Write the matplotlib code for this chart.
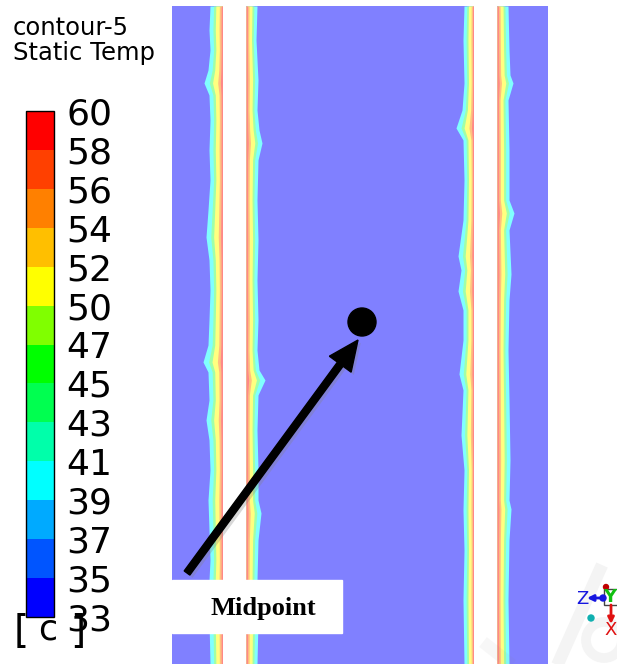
import matplotlib
matplotlib.use("Agg")
import matplotlib.pyplot as plt
import matplotlib.patheffects as pe
import numpy as np
from matplotlib.cm import ScalarMappable
from matplotlib.colors import BoundaryNorm, ListedColormap
from matplotlib.patches import Circle, Rectangle, Arc

W, H = 617, 664

# colour bar (bottom -> top)
cb_labels = ['33', '35', '37', '39', '41', '43', '45', '47', '50', '52', '54', '56', '58', '60']
cb_colors = ['#0000FF', '#0055FF', '#00AAFF', '#00FFFF', '#00FFAA', '#00FF50', '#00FF00',
             '#80FF00', '#FFFF00', '#FFBF00', '#FF8000', '#FF4000', '#FF0000']

# domain size (px units of the picture)
dom_w, dom_h = 376, 658

# contour bands at each plate edge
# outer = where the pale cyan starts, inner = red line next to the white plate
ll_y = [0, 24, 44, 64, 77, 89, 114, 144, 174, 204, 231, 254, 284, 314, 339, 356, 366, 394, 414, 434, 464, 494, 524, 554, 574, 614, 658]
ll_x = [38, 37, 38, 36, 32, 37, 38, 37, 38, 36, 34, 37, 38, 37, 36, 31, 36, 37, 34, 37, 38, 36, 37, 38, 37, 37, 38]
ll_in = 51

lr_y = [0, 34, 74, 104, 124, 137, 154, 194, 234, 274, 314, 344, 364, 374, 389, 424, 464, 494, 507, 534, 574, 614, 658]
lr_x = [85, 84, 86, 85, 87, 90, 86, 85, 86, 85, 86, 85, 87, 93, 86, 85, 86, 86, 89, 86, 85, 86, 85]
lr_in = 74

rl_y = [0, 34, 77, 104, 122, 134, 174, 214, 250, 264, 285, 304, 334, 368, 384, 429, 464, 504, 544, 594, 658]
rl_x = [292, 291, 292, 290, 284, 291, 292, 291, 286, 289, 286, 291, 291, 287, 291, 289, 292, 291, 292, 291, 292]
rl_in = 302

rr_y = [0, 44, 69, 77, 94, 144, 194, 207, 224, 268, 294, 344, 394, 454, 494, 503, 534, 594, 658]
rr_x = [336, 337, 338, 341, 336, 337, 337, 342, 337, 339, 337, 336, 337, 338, 337, 339, 337, 336, 337]
rr_in = 325

# pale (50% on white) band colours from outside to the plate
band_frac = [0.0, 0.28, 0.45, 0.72, 0.86]
band_cols = ['#80FFFF', '#A0FFA8', '#FFFF80', '#FFC080', '#FF8888']
back_col = '#8080FF'

midpoint = (190, 316)
arrow_tail = (15, 567)
arrow_tip = (186, 334)

fig = plt.figure(figsize=(W / 100, H / 100), dpi=100)

ax = fig.add_axes([172 / W, 0, dom_w / W, dom_h / H])
ax.set_xlim(0, dom_w)
ax.set_ylim(dom_h, 0)
ax.axis('off')
ax.fill_betweenx([0, dom_h], 0, dom_w, color=back_col, lw=0)


def draw_edge(y, outer, inner):
    y = np.asarray(y)
    outer = np.asarray(outer, dtype=float)
    for f, c in zip(band_frac, band_cols):
        xb = outer + f * (inner - outer)
        ax.fill_betweenx(y, xb, inner, color=c, lw=0)


draw_edge(ll_y, ll_x, ll_in)
draw_edge(lr_y, lr_x, lr_in)
draw_edge(rl_y, rl_x, rl_in)
draw_edge(rr_y, rr_x, rr_in)
ax.fill_betweenx([0, dom_h], ll_in, lr_in, color='white', lw=0)
ax.fill_betweenx([0, dom_h], rl_in, rr_in, color='white', lw=0)

# arrow + midpoint
arr = ax.arrow(arrow_tail[0], arrow_tail[1], arrow_tip[0] - arrow_tail[0], arrow_tip[1] - arrow_tail[1],
               width=7, head_width=27, head_length=30, length_includes_head=True,
               color='black', zorder=6)
arr.set_path_effects([pe.SimplePatchShadow(offset=(2, -2), shadow_rgbFace='gray', alpha=0.3), pe.Normal()])
ax.add_patch(Circle(midpoint, 14, color='black', zorder=6))

ax.add_patch(Rectangle((0, 574), 170, 53, color='white', zorder=7))
ax.text(91, 602, 'Midpoint', ha='center', va='center', fontsize=19, fontweight='bold',
        family='Liberation Serif', zorder=8)

# colour bar
cax = fig.add_axes([26 / W, (H - 617) / H, 28 / W, 506 / H])
cmap = ListedColormap(cb_colors)
norm = BoundaryNorm(np.arange(len(cb_labels)), cmap.N)
cb = fig.colorbar(ScalarMappable(norm=norm, cmap=cmap), cax=cax, ticks=np.arange(len(cb_labels)))
cb.set_ticklabels(cb_labels)
cb.outline.set_linewidth(1)
cax.tick_params(length=0, pad=9, labelsize=26)

# title (clipped like the viewer does)
tax = fig.add_axes([0, 0, 155 / W, 1])
tax.set_xlim(0, 155)
tax.set_ylim(H, 0)
tax.axis('off')
tax.text(13, 35, 'contour-5', fontsize=17.5, va='baseline', clip_on=True)
tax.text(13, 60, 'Static Temp', fontsize=17.5, va='baseline', clip_on=True)

# overlay: units, triad, watermark
oax = fig.add_axes([0, 0, 1, 1])
oax.set_xlim(0, W)
oax.set_ylim(H, 0)
oax.axis('off')
oax.patch.set_alpha(0)

oax.plot([556, 602], [668, 565], color='#f4f4f4', lw=9, solid_capstyle='butt', zorder=1)
oax.add_patch(Arc((604, 640), 36, 36, theta1=0, theta2=360, color='#f4f4f4', lw=7, zorder=1))
oax.plot([483, 516], [642, 668], color='gray', alpha=0.06, lw=9, solid_capstyle='butt')

oax.text(14, 643, '[', fontsize=28, va='baseline')
oax.text(38, 640, 'c', fontsize=25, va='baseline')
oax.text(70, 643, ']', fontsize=28, va='baseline')

oax.annotate('', xy=(587, 598), xytext=(603, 598),
             arrowprops=dict(arrowstyle='-|>', color='#1515E0', lw=2, mutation_scale=9,
                             shrinkA=0, shrinkB=0))
oax.text(582, 599, 'Z', color='#1515E0', fontsize=13, ha='center', va='center')
oax.add_patch(Rectangle((604, 589), 16, 16, facecolor='white', edgecolor='#444444', lw=1))
oax.text(610, 597, 'Y', color='#10C010', fontsize=13, fontweight='bold', ha='center', va='center')
oax.add_patch(Circle((606, 587), 2.5, color='#C00000'))
oax.add_patch(Circle((603, 598), 3, color='#1515E0'))
oax.annotate('', xy=(611, 624), xytext=(611, 605),
             arrowprops=dict(arrowstyle='-|>', color='#E01010', lw=2, mutation_scale=9,
                             shrinkA=0, shrinkB=0))
oax.text(611, 630, 'X', color='#E01010', fontsize=13, ha='center', va='center')
oax.add_patch(Circle((591, 618), 3, color='#10B0B0'))

fig.savefig('out.png', dpi=100)
